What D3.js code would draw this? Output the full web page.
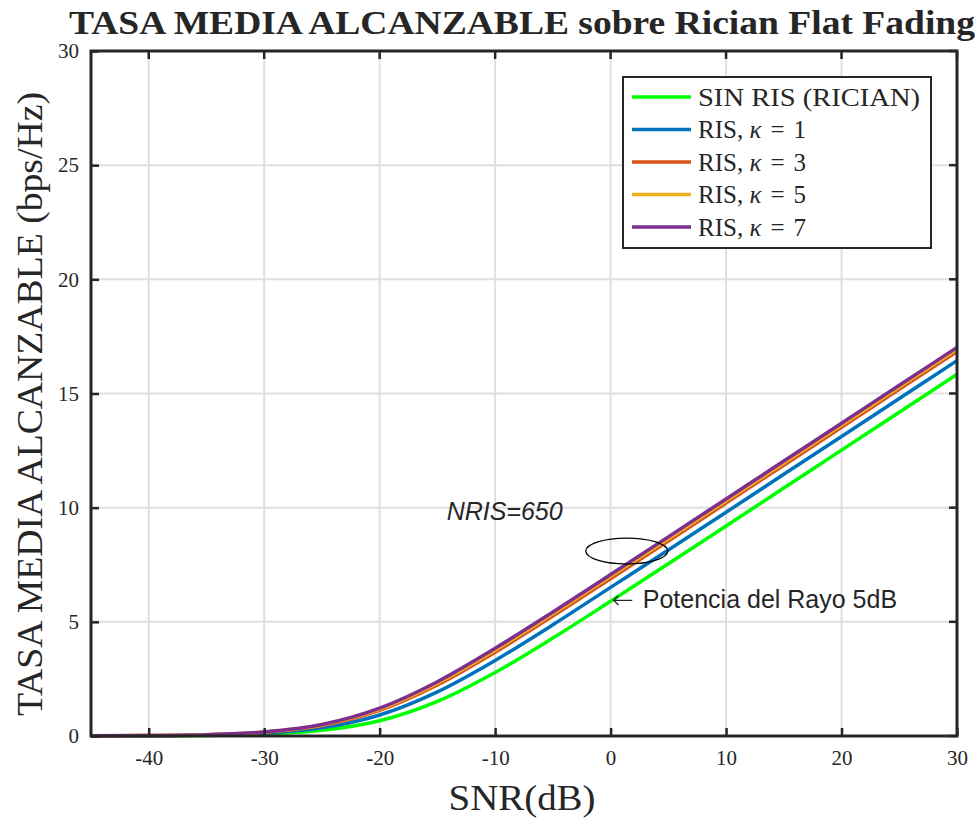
<!DOCTYPE html>
<html>
<head>
<meta charset="utf-8">
<script src="https://cdn.jsdelivr.net/npm/d3@7"></script>
<style>
  body { margin: 0; background: #fff; }
  svg text { fill: #262626; }
</style>
</head>
<body>
<div class="chart"></div>
<script>
// values (SNR in dB, rate in bps/Hz)
var snr = [-45, -40, -35, -30, -25, -20, -15, -10, -5, 0, 5, 10, 15, 20, 25, 30];
var sinRis = [0.003, 0.008, 0.027, 0.082, 0.246, 0.666, 1.514, 2.78, 4.29, 5.90, 7.54, 9.20, 10.86, 12.52, 14.18, 15.84];
var risK1  = [0.004, 0.013, 0.040, 0.123, 0.358, 0.920, 1.934, 3.31, 4.87, 6.51, 8.15, 9.80, 11.46, 13.12, 14.78, 16.44];
var risK3  = [0.005, 0.017, 0.053, 0.160, 0.456, 1.120, 2.236, 3.67, 5.25, 6.89, 8.54, 10.20, 11.86, 13.52, 15.18, 16.84];
var risK5  = [0.006, 0.018, 0.056, 0.171, 0.484, 1.176, 2.317, 3.76, 5.35, 6.99, 8.64, 10.30, 11.96, 13.62, 15.28, 16.94];
var risK7  = [0.006, 0.019, 0.059, 0.180, 0.506, 1.221, 2.379, 3.84, 5.43, 7.07, 8.72, 10.38, 12.04, 13.70, 15.36, 17.02];

var xTicks = [-40, -30, -20, -10, 0, 10, 20, 30];
var yTicks = [0, 5, 10, 15, 20, 25, 30];

var seriesNames = ["SIN RIS (RICIAN)", "RIS, κ = 1", "RIS, κ = 3", "RIS, κ = 5", "RIS, κ = 7"];
var seriesValues = [sinRis, risK1, risK3, risK5, risK7];
var seriesColors = ["#00ff00", "#0072bd", "#d95319", "#edb120", "#7e2f8e"];

var W = 977, H = 820;
var margin = {top: 51, right: 20, bottom: 84, left: 91},
    width = 957 - margin.left,
    height = 736 - margin.top;

var svg = d3.select(".chart").append("svg")
    .attr("width", W).attr("height", H);

var g = svg.append("g")
    .attr("transform", "translate(" + margin.left + "," + margin.top + ")");

var x = d3.scaleLinear().domain([-45, 30]).range([0, width]);
var y = d3.scaleLinear().domain([0, 30]).range([height, 0]);

var serif = "'Liberation Serif', 'Times New Roman', serif",
    sans = "'Liberation Sans', Arial, sans-serif";

// grid
g.append("g").selectAll("line").data(xTicks).enter().append("line")
    .attr("x1", d => x(d)).attr("x2", d => x(d))
    .attr("y1", 0).attr("y2", height)
    .attr("stroke", "#dfdfdf").attr("stroke-width", 2);
g.append("g").selectAll("line").data(yTicks).enter().append("line")
    .attr("y1", d => y(d)).attr("y2", d => y(d))
    .attr("x1", 0).attr("x2", width)
    .attr("stroke", "#dfdfdf").attr("stroke-width", 2);

// curves
var line = d3.line()
    .x((d, i) => x(snr[i]))
    .y(d => y(d))
    .curve(d3.curveMonotoneX);

g.append("g").selectAll("path").data(seriesValues).enter().append("path")
    .attr("d", line)
    .attr("fill", "none")
    .attr("stroke", (d, i) => seriesColors[i])
    .attr("stroke-width", 3.5)
    .attr("stroke-linejoin", "round");

// axes (ticks inside, matlab style), plain hyphen for negatives
var fmt = d => String(d);
var xAxis = d3.axisBottom(x).tickValues(xTicks).tickFormat(fmt).tickSize(-8).tickPadding(14);
var yAxis = d3.axisLeft(y).tickValues(yTicks).tickFormat(fmt).tickSize(-8).tickPadding(12);

var xg = g.append("g").attr("transform", "translate(0," + height + ")").call(xAxis);
var yg = g.append("g").call(yAxis);
[xg, yg].forEach(function(a) {
    a.select(".domain").remove();
    a.selectAll(".tick line").attr("stroke", "#262626").attr("stroke-width", 2.5);
    a.selectAll(".tick text").style("font-family", serif).style("font-size", "21px").attr("fill", "#262626");
});
xg.selectAll(".tick text").attr("dy", "0.71em");

// top and right ticks
g.append("g").selectAll("line").data(xTicks).enter().append("line")
    .attr("x1", d => x(d)).attr("x2", d => x(d)).attr("y1", 0).attr("y2", 8)
    .attr("stroke", "#262626").attr("stroke-width", 2.5);
g.append("g").selectAll("line").data(yTicks).enter().append("line")
    .attr("y1", d => y(d)).attr("y2", d => y(d)).attr("x1", width - 8).attr("x2", width)
    .attr("stroke", "#262626").attr("stroke-width", 2.5);

// box
g.append("rect")
    .attr("x", 0).attr("y", 0).attr("width", width).attr("height", height)
    .attr("fill", "none").attr("stroke", "#262626").attr("stroke-width", 3);

// annotations
g.append("ellipse")
    .attr("cx", x(1.4)).attr("cy", y(8.1))
    .attr("rx", x(3.55) - x(0)).attr("ry", 13)
    .attr("fill", "none").attr("stroke", "#000").attr("stroke-width", 1.3);

g.append("text")
    .attr("x", x(-14.2)).attr("y", y(9.45))
    .style("font-family", sans).style("font-size", "25px").style("font-style", "italic")
    .attr("fill", "#000")
    .text("NRIS=650");

g.append("text")
    .attr("x", x(0.1)).attr("y", y(5.6))
    .style("font-family", sans).style("font-size", "25px")
    .attr("fill", "#000")
    .call(t => t.append("tspan").attr("textLength", 22).attr("lengthAdjust", "spacingAndGlyphs")
        .style("font-family", "'DejaVu Sans', sans-serif").style("font-weight", "200").text("\u2190"))
    .call(t => t.append("tspan").attr("dx", 9).text("Potencia del Rayo 5dB"));

// legend
var lg = g.append("g").attr("transform", "translate(" + (623 - margin.left) + "," + (77 - margin.top) + ")");
lg.append("rect")
    .attr("width", 308).attr("height", 171)
    .attr("fill", "#fff").attr("stroke", "#262626").attr("stroke-width", 2);
var rows = lg.selectAll("g.row").data(seriesNames).enter().append("g")
    .attr("class", "row")
    .attr("transform", (d, i) => "translate(0," + (20 + i * 32.5) + ")");
rows.append("line")
    .attr("x1", 9).attr("x2", 68).attr("y1", 0).attr("y2", 0)
    .attr("stroke", (d, i) => seriesColors[i]).attr("stroke-width", 3.5);
rows.append("text")
    .attr("x", 75).attr("dy", "0.35em")
    .style("font-family", serif).style("font-size", "25px")
    .attr("fill", "#000")
    .each(function(d) {
        var t = d3.select(this);
        var k = d.indexOf("κ");
        if (k < 0) { t.attr("textLength", 222).attr("lengthAdjust", "spacingAndGlyphs").text(d); return; }
        t.append("tspan").text(d.slice(0, k));
        t.append("tspan").style("font-style", "italic").text("κ");
        t.append("tspan").attr("dx", 9).text("=");
        t.append("tspan").attr("dx", 9).text(d.slice(k + 4));
    });

// titles
svg.append("text")
    .attr("x", 522).attr("y", 34)
    .attr("text-anchor", "middle")
    .attr("textLength", 906).attr("lengthAdjust", "spacingAndGlyphs")
    .style("font-family", serif).style("font-size", "34px").style("font-weight", "bold")
    .attr("fill", "#000")
    .text("TASA MEDIA ALCANZABLE sobre Rician Flat Fading");

svg.append("text")
    .attr("x", 522).attr("y", 810)
    .attr("text-anchor", "middle")
    .attr("textLength", 147).attr("lengthAdjust", "spacingAndGlyphs")
    .style("font-family", serif).style("font-size", "36px")
    .text("SNR(dB)");

svg.append("text")
    .attr("transform", "translate(42,404)rotate(-90)")
    .attr("text-anchor", "middle")
    .attr("textLength", 624).attr("lengthAdjust", "spacingAndGlyphs")
    .style("font-family", serif).style("font-size", "35px")
    .text("TASA MEDIA ALCANZABLE (bps/Hz)");
</script>
</body>
</html>
